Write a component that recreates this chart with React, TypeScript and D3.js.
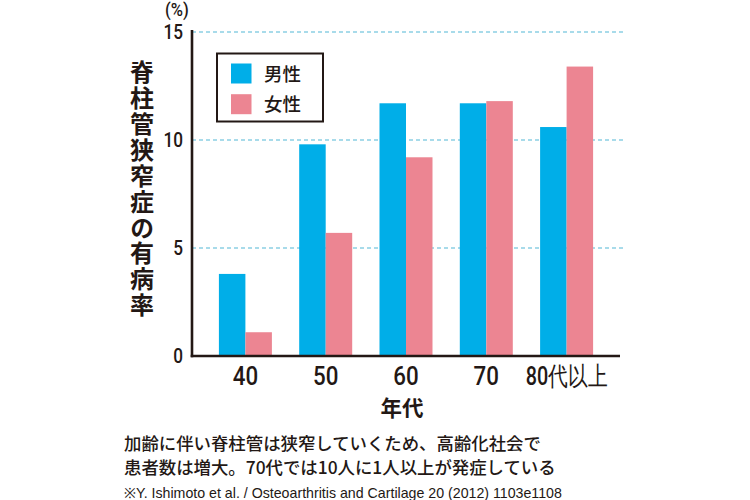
import React from "react";
import * as d3 from "d3";

const categories = ["40", "50", "60", "70", "80代以上"];
const series = ["男性", "女性"];
const maleValues = [3.8, 9.8, 11.7, 11.7, 10.6];
const femaleValues = [1.1, 5.7, 9.2, 11.8, 13.4];
const yTicks = [0, 5, 10, 15];
const colors = ["#00aee8", "#ec8592"];
const yTitle = "脊柱管狭窄症の有病率";
const xTitle = "年代";
const caption1 = "加齢に伴い脊柱管は狭窄していくため、高齢化社会で";
const caption2 = "患者数は増大。70代では10人に1人以上が発症している";
const source = "※Y. Ishimoto et al. / Osteoarthritis and Cartilage 20 (2012) 1103e1108";

const W = 750;
const H = 500;
const left = 192;
const right = 620;
const top = 32;
const bottom = 356;

export default function App() {
  const x = d3.scaleBand<string>().domain(categories).range([left, right]).paddingInner(0.34).paddingOuter(0.335);
  const x1 = d3.scaleBand<string>().domain(series).range([0, x.bandwidth()]);
  const y = d3.scaleLinear().domain([0, 15]).range([bottom, top]);
  const data = [maleValues, femaleValues];
  const jp = "'Noto Sans CJK JP', sans-serif";
  const num = "Roboto, 'Liberation Sans', Arial, sans-serif";
  const ink = "#231815";

  return (
    <svg width={W} height={H} style={{ position: "absolute", left: 0, top: 0, background: "#fff" }}>
      {/* grid */}
      {yTicks.filter((t) => t > 0).map((t) => (
        <line key={t} x1={left} x2={626} y1={y(t)} y2={y(t)} stroke="#8ccfe3" strokeWidth={1.3} strokeDasharray="4 3" />
      ))}
      {/* bars */}
      {categories.map((c, i) =>
        series.map((s, j) => (
          <rect
            key={c + s}
            x={(x(c) as number) + (x1(s) as number)}
            y={y(data[j][i])}
            width={x1.bandwidth()}
            height={y(0) - y(data[j][i])}
            fill={colors[j]}
          />
        ))
      )}
      {/* axes */}
      <line x1={left} x2={left} y1={top - 2} y2={bottom + 1.2} stroke={ink} strokeWidth={2.6} />
      <line x1={left - 1.3} x2={right} y1={bottom} y2={bottom} stroke={ink} strokeWidth={2.6} />
      {/* y ticks */}
      {yTicks.map((t) => (
        <text
          key={t}
          transform={`translate(183,${y(t) + 7.2}) scale(0.86,1)`}
          textAnchor="end"
          fontFamily={num}
          fontWeight={500}
          fontSize={20}
          fill={ink}
        >
          {t}
        </text>
      ))}
      <text
        transform="translate(177,16) scale(0.9,1)"
        textAnchor="middle"
        fontFamily={num}
        fontWeight={500}
        fontSize={18.5}
        fill={ink}
      >
        (%)
      </text>
      {/* x ticks */}
      {categories.map((c) => (
        <text
          key={c}
          transform={`translate(${(x(c) as number) + x.bandwidth() / 2},385) scale(${c.length > 2 ? 0.76 : 0.86},1)`}
          textAnchor="middle"
          fontFamily={num}
          fontWeight={500}
          fontSize={26}
          fill={ink}
        >
          {c}
        </text>
      ))}
      <text x={402} y={416} textAnchor="middle" fontFamily={jp} fontWeight={700} fontSize={21.5} fill={ink}>
        {xTitle}
      </text>
      {/* y title vertical */}
      <text
        x={142}
        y={60}
        style={{ writingMode: "vertical-rl" }}
        fontFamily={jp}
        fontWeight={700}
        fontSize={24}
        letterSpacing={1.9}
        fill={ink}
      >
        {yTitle}
      </text>
      {/* legend */}
      <rect x={217} y={53.5} width={106} height={68} fill="#fff" stroke={ink} strokeWidth={2} />
      {series.map((s, j) => (
        <g key={s}>
          <rect x={231} y={63.5 + j * 30.7} width={20.5} height={20} fill={colors[j]} />
          <text x={264} y={80.5 + j * 30.7} fontFamily={jp} fontWeight={500} fontSize={18.5} fill={ink}>
            {s}
          </text>
        </g>
      ))}
      {/* captions */}
      <text x={124} y={450} fontFamily={jp} fontWeight={500} fontSize={17.4} fill={ink}>
        {caption1}
      </text>
      <text x={124} y={474} fontFamily={jp} fontWeight={500} fontSize={17.4} fill={ink}>
        {caption2}
      </text>
      <text x={124} y={498} fontFamily="'Liberation Sans', Arial, sans-serif" fontSize={14.2} fill={ink}>
        {source}
      </text>
    </svg>
  );
}
